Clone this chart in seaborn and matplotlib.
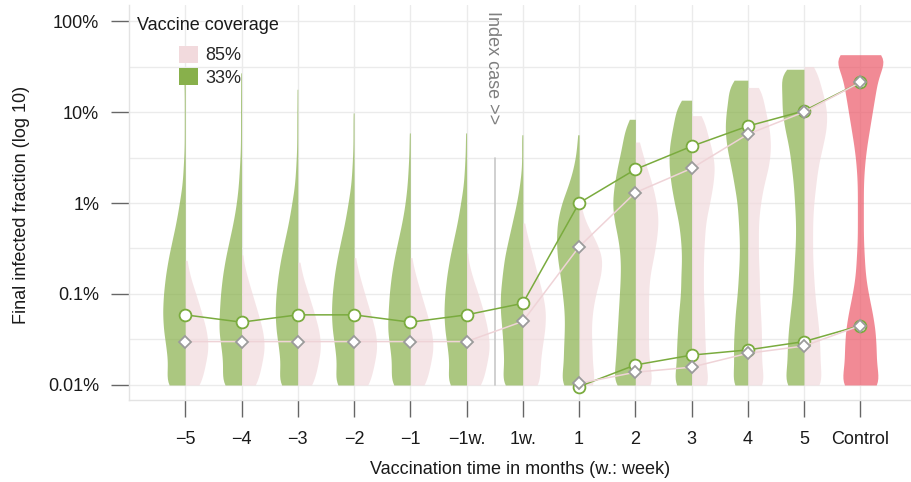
import numpy as np
import pandas as pd
import matplotlib
matplotlib.use("Agg")
import matplotlib.pyplot as plt
import matplotlib.ticker as mticker
import matplotlib.transforms as mtransforms
from matplotlib.patches import Patch
import seaborn as sns

# ---------------- data ----------------
cats = ["\u22125", "\u22124", "\u22123", "\u22122", "\u22121", "\u22121w.", "1w.",
        "1", "2", "3", "4", "5", "Control"]
coverage_order = ["33%", "85%"]

# violin profiles: counts on a log10 grid starting at -4.0 with step 0.2,
# plus the maximum (top) value and how many samples sit there
LEVEL0 = -4.0
STEP = 0.2

green_counts = [
    [21, 17, 19, 22, 23, 22, 20, 17, 13, 9, 6, 3, 2, 1, 1, 1, 1, 1],
    [21, 18, 20, 23, 22, 21, 19, 16, 12, 8, 5, 3, 2, 1, 1, 1, 1],
    [21, 17, 19, 22, 23, 22, 20, 17, 13, 9, 6, 3, 2, 1, 1, 1],
    [21, 17, 19, 22, 23, 22, 20, 17, 13, 9, 6, 3, 2, 1, 1],
    [21, 18, 20, 23, 22, 21, 19, 16, 12, 8, 5, 3, 2, 1],
    [21, 17, 19, 22, 23, 22, 20, 17, 13, 9, 6, 3, 2, 1],
    [22, 18, 19, 20, 22, 22, 20, 18, 14, 10, 6, 3, 1, 1],
    [19, 15, 15, 14, 14, 16, 18, 21, 22, 21, 17, 10, 5, 2],
    [22, 19, 18, 17, 16, 15, 14, 14, 16, 20, 22, 20, 17, 13, 10],
    [18, 14, 14, 13, 12, 10, 10, 9, 10, 12, 16, 19, 21, 21, 18, 14],
    [16, 13, 14, 13, 12, 10, 9, 8, 8, 9, 10, 13, 16, 20, 22, 21, 17],
    [20, 16, 16, 15, 13, 11, 10, 9, 8, 8, 9, 10, 12, 14, 18, 21, 21, 19],
]
green_tops = [-0.55, -0.57, -0.75, -1.01, -1.23, -1.23, -1.25, -1.25,
              -1.08, -0.87, -0.65, -0.53]
green_top_n = [1, 1, 1, 1, 1, 1, 1, 1, 2, 6, 12, 8]

pink_counts = [
    [15, 18, 22, 20, 15, 10, 4],
    [15, 18, 22, 20, 15, 10, 5],
    [15, 18, 22, 20, 15, 10, 4],
    [15, 18, 22, 20, 15, 10, 5],
    [15, 18, 22, 20, 15, 10, 5],
    [15, 18, 22, 20, 16, 11, 5],
    [17, 16, 18, 21, 22, 19, 14, 10, 5],
    [16, 12, 12, 11, 12, 15, 20, 22, 15, 5],
    [19, 14, 13, 13, 13, 13, 14, 18, 21, 23, 21, 17, 11, 5],
    [18, 13, 13, 12, 12, 11, 11, 11, 12, 13, 17, 20, 22, 19, 13],
    [17, 13, 13, 13, 12, 11, 11, 10, 10, 10, 12, 15, 20, 22, 21, 17, 12],
    [18, 15, 15, 14, 12, 10, 9, 8, 8, 8, 9, 11, 13, 17, 21, 22, 18, 12],
]
pink_tops = [-2.63, -2.57, -2.65, -2.6, -2.6, -2.55, -2.22, -2.0,
             -1.33, -1.04, -0.73, -0.5]
pink_top_n = [1, 1, 1, 1, 1, 1, 1, 1, 1, 8, 4, 4]

control_counts = [21, 16, 16, 15, 12, 8, 5, 4, 3, 3, 3, 3, 4, 6, 9, 12, 15, 18, 24]
control_top = -0.37
control_top_n = 6

# mean final infected fraction (%)
mean33_upper = [0.059, 0.049, 0.059, 0.059, 0.049, 0.059, 0.079,
                1.0, 2.34, 4.2, 7.0, 10.3, 21.2]
mean85_upper = [0.030, 0.030, 0.030, 0.030, 0.030, 0.030, 0.050,
                0.33, 1.30, 2.4, 5.7, 10.0, 21.2]
mean33_lower = [0.0096, 0.0166, 0.0213, 0.0243, 0.030, 0.045]   # 1 .. Control
mean85_lower = [0.0104, 0.0138, 0.0157, 0.0223, 0.0268, 0.045]  # 1 .. Control

ytick_vals = [0.0001, 0.001, 0.01, 0.1, 1.0]
ytick_labels = ["0.01%", "0.1%", "1%", "10%", "100%"]

# ---------------- styles ----------------
GREEN = "#88b04b"
PINK = "#f2dadd"
RED = "#ec5969"
GREEN_LINE = "#7aab3e"
PINK_LINE = "#efd3d7"
DIAMOND_EDGE = "#9b9b9b"
GRID = "#ebebeb"
BW = 0.13

sns.set_theme(style="white")
plt.rcParams["font.family"] = ["Liberation Sans", "DejaVu Sans"]
plt.rcParams["font.size"] = 13


def expand(counts, top, top_n):
    levels = LEVEL0 + STEP * np.arange(len(counts))
    vals = np.concatenate([np.repeat(levels, counts), np.repeat(top, top_n)])
    return 10.0 ** vals


rows = []
for i, cat in enumerate(cats[:12]):
    for v in expand(green_counts[i], green_tops[i], green_top_n[i]):
        rows.append((cat, "33%", v))
    for v in expand(pink_counts[i], pink_tops[i], pink_top_n[i]):
        rows.append((cat, "85%", v))
df = pd.DataFrame(rows, columns=["time", "coverage", "fraction"])
df_ctrl = pd.DataFrame({"time": "Control",
                        "fraction": expand(control_counts, control_top, control_top_n)})

bw_fn = lambda k: BW / np.std(k.dataset)

fig = plt.figure(figsize=(9.11, 4.82), dpi=100)
ax = fig.add_axes([129 / 911, (482 - 400) / 482, (911 - 129) / 911, (400 - 5) / 482])

sns.violinplot(data=df, x="time", y="fraction", hue="coverage", order=cats,
               hue_order=coverage_order, palette={"33%": GREEN, "85%": PINK},
               split=True, inner=None, cut=0, density_norm="width",
               common_norm=False, width=0.8, gap=0, log_scale=True,
               bw_method=bw_fn, saturation=1, linewidth=0, legend=False,
               alpha=0.7, ax=ax)
sns.violinplot(data=df_ctrl, x="time", y="fraction", order=cats, color=RED,
               inner=None, cut=0, density_norm="width", width=0.8,
               log_scale=True, bw_method=bw_fn, saturation=1, linewidth=0,
               alpha=0.7, ax=ax)

x_all = np.arange(len(cats))
x_low = np.arange(7, len(cats))
line_kw = dict(sort=False, ax=ax, linewidth=1.1, zorder=3)
sns.lineplot(x=x_all, y=np.array(mean33_upper) / 100, color=GREEN_LINE, marker="o",
             markersize=8.5, markerfacecolor="white", mec=GREEN_LINE, mew=1.3, **line_kw)
sns.lineplot(x=x_low, y=np.array(mean33_lower) / 100, color=GREEN_LINE, marker="o",
             markersize=8.5, markerfacecolor="white", mec=GREEN_LINE, mew=1.3, **line_kw)
sns.lineplot(x=x_all, y=np.array(mean85_upper) / 100, color=PINK_LINE, marker="D",
             markersize=6.2, markerfacecolor="white", mec=DIAMOND_EDGE, mew=1.3, **line_kw)
sns.lineplot(x=x_low, y=np.array(mean85_lower) / 100, color=PINK_LINE, marker="D",
             markersize=6.2, markerfacecolor="white", mec=DIAMOND_EDGE, mew=1.3, **line_kw)

# index case marker
ax.plot([5.5, 5.5], [1e-4, 10 ** -1.5], color="#c8c8c8", lw=1.2, zorder=2)
ax.text(5.46, 0.985, "Index case >>", rotation=270, ha="center", va="top",
        color="#7f7f7f", fontsize=13,
        transform=mtransforms.blended_transform_factory(ax.transData, ax.transAxes))

# axes
ax.set_yscale("log")
ax.set_xlim(-1.0, 12.9)
ax.set_ylim(10 ** -4.165, 10 ** 0.176)
ax.set_yticks(ytick_vals)
ax.set_yticklabels(ytick_labels)
ax.yaxis.set_minor_locator(mticker.FixedLocator([10 ** (-3.5), 10 ** (-2.5), 10 ** (-1.5), 10 ** (-0.5)]))
ax.yaxis.set_minor_formatter(mticker.NullFormatter())
ax.set_xticks(x_all)
ax.set_xticklabels(cats)
ax.set_xlabel("")
ax.set_ylabel("")
ax.set_axisbelow(True)
ax.grid(True, which="both", axis="y", color=GRID, lw=1.0)
ax.grid(True, which="major", axis="x", color=GRID, lw=1.0)
ax.tick_params(axis="y", which="major", length=13, width=1.0, color="#666666",
               pad=8.5, labelsize=13, labelcolor="#1a1a1a", left=True)
ax.tick_params(axis="y", which="minor", length=0)
ax.tick_params(axis="x", which="major", length=12, width=1.0, color="#666666",
               pad=10, labelsize=13, labelcolor="#1a1a1a", bottom=True)
for s in ["top", "right"]:
    ax.spines[s].set_visible(False)
for s in ["left", "bottom"]:
    ax.spines[s].set_visible(True)
    ax.spines[s].set_color("#e3e3e3")
    ax.spines[s].set_linewidth(1.0)

fig.text(520 / 911, 1 - 469 / 482, "Vaccination time in months (w.: week)",
         ha="center", va="center", fontsize=13, color="#1a1a1a")
fig.text(22 / 911, 1 - 205 / 482, "Final infected fraction (log 10)", rotation=90,
         ha="center", va="center", fontsize=13, color="#1a1a1a")

# legend
fig.text(137 / 911, 1 - 25 / 482, "Vaccine coverage", ha="left", va="center",
         fontsize=13, color="#1a1a1a")
handles = [Patch(facecolor=PINK, edgecolor="none"), Patch(facecolor=GREEN, edgecolor="none")]
fig.legend(handles, ["85%", "33%"], loc="upper left",
           bbox_to_anchor=(179 / 911, 1 - 46 / 482), bbox_transform=fig.transFigure,
           frameon=False, borderpad=0, borderaxespad=0, handlelength=1.03,
           handleheight=1.03, handletextpad=0.45, labelspacing=0.22, fontsize=13)

fig.savefig("out.png", dpi=100)
